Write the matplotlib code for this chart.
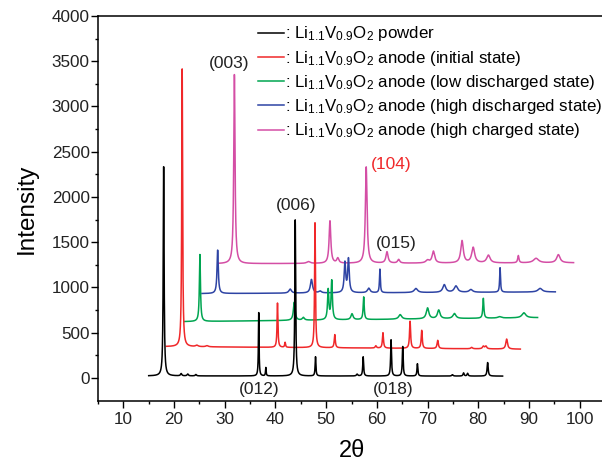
import numpy as np
import matplotlib
matplotlib.use('Agg')
import matplotlib.pyplot as plt

plt.rcParams['font.family'] = 'Liberation Sans'
plt.rcParams['mathtext.fontset'] = 'custom'
plt.rcParams['mathtext.rm'] = 'Liberation Sans'
plt.rcParams['axes.unicode_minus'] = False

# 各パターンの測定範囲 (2θ) とバックグラウンド (開始, 終了)
ranges = {
    'powder':   (15.0, 84.8),
    'initial':  (18.5, 88.3),
    'low_dis':  (22.0, 91.7),
    'high_dis': (25.5, 95.2),
    'high_chg': (28.7, 98.8),
}
backgrounds = {
    'powder':   (22, 20),
    'initial':  (346, 318),
    'low_dis':  (622, 666),
    'high_dis': (932, 950),
    'high_chg': (1262, 1272),
}

# ピーク位置 (2θ), 強度 (バックグラウンドからの高さ), 半値幅
powder_pos = [17.95, 21.4, 22.7, 24.3, 36.7, 38.1, 43.9, 47.9, 56.1, 57.3,
              62.8, 65.1, 68.0, 74.9, 77.1, 77.9, 81.85]
powder_int = [2335, 25, 20, 15, 700, 92, 1725, 212, 20, 212,
              400, 326, 136, 15, 35, 30, 150]
powder_fwhm = [0.2, 0.3, 0.3, 0.3, 0.15, 0.15, 0.2, 0.18, 0.3, 0.2,
               0.2, 0.2, 0.2, 0.3, 0.25, 0.25, 0.25]

initial_pos = [21.6, 24.5, 26.5, 40.4, 41.9, 47.8, 51.7, 59.8, 61.2,
               66.55, 68.85, 72.0, 78.7, 81.0, 81.5, 85.6]
initial_int = [3070, 15, 12, 490, 55, 1380, 145, 25, 170,
               300, 200, 90, 15, 28, 30, 110]
initial_fwhm = [0.2, 0.6, 0.6, 0.2, 0.2, 0.2, 0.25, 0.3, 0.25,
                0.25, 0.25, 0.3, 0.4, 0.4, 0.4, 0.4]

low_dis_pos = [25.1, 43.7, 45.5, 50.4, 51.1, 55.1, 57.4, 64.6, 70.0,
               72.2, 75.3, 81.0, 84.2, 89.0]
low_dis_int = [740, 200, 30, 330, 430, 65, 250, 50, 120,
               95, 55, 220, 15, 55]
low_dis_fwhm = [0.25, 0.4, 0.5, 0.3, 0.3, 0.5, 0.25, 0.7, 0.6,
                0.6, 0.7, 0.25, 0.8, 0.9]

high_dis_pos = [28.6, 42.9, 47.1, 48.8, 53.7, 54.4, 58.4, 60.6, 67.7,
                73.3, 75.6, 78.55, 84.3, 92.2]
high_dis_int = [480, 45, 150, 20, 330, 370, 50, 260, 45,
                85, 70, 30, 270, 40]
high_dis_fwhm = [0.3, 0.6, 0.5, 0.6, 0.35, 0.35, 0.6, 0.2, 0.8,
                 0.7, 0.8, 0.8, 0.2, 1.0]

high_chg_pos = [31.9, 46.5, 50.75, 52.3, 57.9, 62.0, 64.3, 70.0, 71.15,
                76.8, 79.0, 82.0, 87.9, 91.4, 95.8]
high_chg_int = [2090, 20, 470, 55, 1065, 125, 40, 30, 130,
                245, 170, 85, 80, 50, 90]
high_chg_fwhm = [0.3, 0.8, 0.4, 0.5, 0.4, 0.5, 0.5, 0.8, 0.6,
                 0.6, 0.7, 0.8, 0.3, 1.2, 0.8]

labels = [
    ': Li$\\mathregular{_{1.1}}$V$\\mathregular{_{0.9}}$O$\\mathregular{_2}$ powder',
    ': Li$\\mathregular{_{1.1}}$V$\\mathregular{_{0.9}}$O$\\mathregular{_2}$ anode (initial state)',
    ': Li$\\mathregular{_{1.1}}$V$\\mathregular{_{0.9}}$O$\\mathregular{_2}$ anode (low discharged state)',
    ': Li$\\mathregular{_{1.1}}$V$\\mathregular{_{0.9}}$O$\\mathregular{_2}$ anode (high discharged state)',
    ': Li$\\mathregular{_{1.1}}$V$\\mathregular{_{0.9}}$O$\\mathregular{_2}$ anode (high charged state)',
]
colors = ['#000000', '#f0282a', '#00a551', '#2e44a4', '#d44ea5']

# ミラー指数ラベル (2θ, 強度, テキスト, 色)
hkl_labels = [
    (30.9, 3480, '(003)', '#222222'),
    (44.1, 1905, '(006)', '#222222'),
    (62.8, 2355, '(104)', '#f0282a'),
    (63.9, 1480, '(015)', '#222222'),
    (36.8, -125, '(012)', '#222222'),
    (63.25, -125, '(018)', '#222222'),
]


def build_pattern(key, pos, inten, fwhm, step=0.02):
    """
    ピークリストからローレンツ型のXRDパターンを組み立てる
    """
    x0, x1 = ranges[key]
    b0, b1 = backgrounds[key]
    x = np.arange(x0, x1 + step, step)
    y = b0 + (b1 - b0) * (x - x0) / (x1 - x0)
    for c, h, w in zip(pos, inten, fwhm):
        g = w / 2
        y = y + h * g**2 / ((x - c)**2 + g**2)
    return x, y


patterns = [
    build_pattern('powder', powder_pos, powder_int, powder_fwhm),
    build_pattern('initial', initial_pos, initial_int, initial_fwhm),
    build_pattern('low_dis', low_dis_pos, low_dis_int, low_dis_fwhm),
    build_pattern('high_dis', high_dis_pos, high_dis_int, high_dis_fwhm),
    build_pattern('high_chg', high_chg_pos, high_chg_int, high_chg_fwhm),
]

fig = plt.figure(figsize=(6.02, 4.61), dpi=100)
ax = fig.add_axes([0.1628, 0.1302, 0.8422, 0.8351])

handles = [None] * len(patterns)
# 粉末パターンが一番上に来るよう逆順に描く
for i in reversed(range(len(patterns))):
    x, y = patterns[i]
    handles[i], = ax.plot(x, y, color=colors[i], linewidth=1.1, label=labels[i])

for tx, ty, text, c in hkl_labels:
    ax.text(tx, ty, text, color=c, fontsize=12.5, ha='center', va='center')

ax.set_xlim(5, 105)
ax.set_ylim(-255, 4000)
ax.set_xticks(np.arange(10, 101, 10))
ax.set_xticks(np.arange(5, 105, 5), minor=True)
ax.set_yticks(np.arange(0, 4001, 500))
ax.set_yticks(np.arange(0, 4001, 250), minor=True)
ax.tick_params(which='major', direction='out', length=5, width=1.0,
               labelsize=12.3, labelcolor='#222222')
ax.tick_params(axis='y', which='major', pad=1)
ax.tick_params(axis='x', which='major', pad=3)
ax.tick_params(which='minor', direction='out', length=2.5, width=1.0)
ax.tick_params(axis='x', top=False)
ax.tick_params(axis='y', right=False)
for s in ax.spines.values():
    s.set_linewidth(1.1)

ax.set_xlabel('2θ', fontsize=17, labelpad=9)
ax.set_ylabel('Intensity', fontsize=17.5, labelpad=10)

leg = ax.legend(handles=handles, loc='upper left', bbox_to_anchor=(0.316, 0.978),
                frameon=False, fontsize=12.2, handlelength=1.52, handletextpad=0.05,
                labelspacing=0.31, borderaxespad=0, borderpad=0)

fig.savefig('out.png', dpi=100)
